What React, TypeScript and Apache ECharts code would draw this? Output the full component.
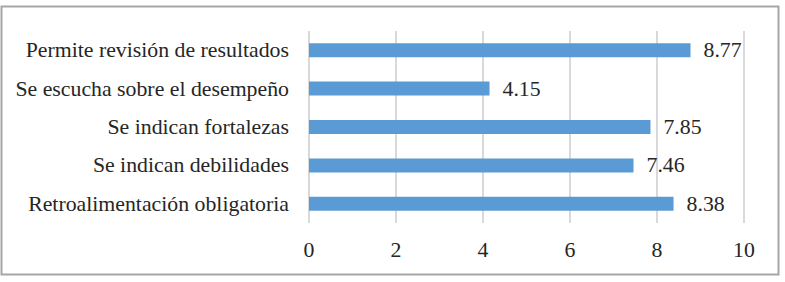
import React, { useEffect, useRef } from "react";
import * as echarts from "echarts";

const categories = [
  "Permite revisión de resultados",
  "Se escucha sobre el desempeño",
  "Se indican fortalezas",
  "Se indican debilidades",
  "Retroalimentación obligatoria",
];
const values = [8.77, 4.15, 7.85, 7.46, 8.38];
const xTicks = [0, 2, 4, 6, 8, 10];

const FONT = "Liberation Serif";
const TEXT = "#262626";
const FS = 21.8;

export default function App() {
  const ref = useRef<HTMLDivElement>(null);
  useEffect(() => {
    document.body.style.margin = "0";
    const chart = echarts.init(ref.current!, null, { renderer: "svg" });
    chart.setOption({
      animation: false,
      backgroundColor: "#ffffff",
      textStyle: { fontFamily: FONT },
      grid: { left: 309, right: 41, top: 31, bottom: 59, containLabel: false },
      xAxis: {
        type: "value",
        min: xTicks[0],
        max: xTicks[xTicks.length - 1],
        interval: 2,
        axisLine: { show: false },
        axisTick: { show: false },
        splitLine: { show: true, lineStyle: { color: "#d9d9d9", width: 2 } },
        axisLabel: { color: TEXT, fontFamily: FONT, fontSize: FS, margin: 16 },
      },
      yAxis: {
        type: "category",
        inverse: true,
        data: categories,
        axisLine: { show: false },
        axisTick: { show: false },
        axisLabel: { color: TEXT, fontFamily: FONT, fontSize: FS, margin: 20 },
      },
      series: [
        {
          type: "bar",
          data: values,
          barWidth: 14,
          itemStyle: { color: "#5b9bd5" },
          label: {
            show: true,
            position: "right",
            distance: 13,
            color: TEXT,
            fontFamily: FONT,
            fontSize: FS,
            formatter: (p: any) => p.value.toFixed(2),
          },
        },
      ],
      graphic: [
        {
          type: "rect",
          shape: { x: 1.5, y: 6.5, width: 777, height: 268 },
          style: { fill: "none", stroke: "#a6a6a6", lineWidth: 2 },
          z: 100,
        },
      ],
    });
    return () => chart.dispose();
  }, []);
  return <div ref={ref} style={{ width: 785, height: 282 }} />;
}
